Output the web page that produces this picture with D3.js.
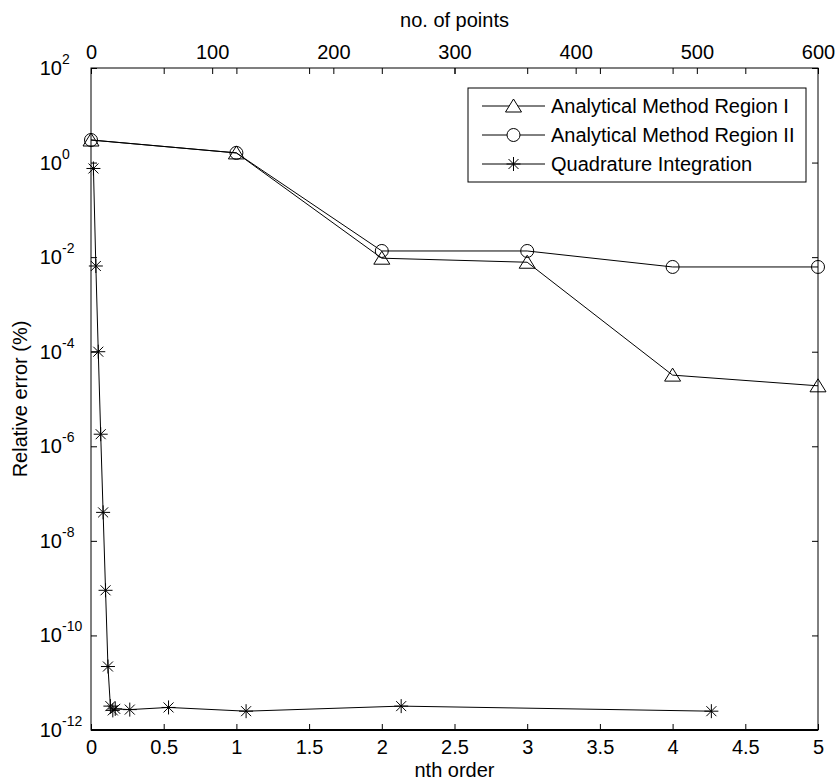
<!DOCTYPE html>
<html><head><meta charset="utf-8">
<script src="https://cdn.jsdelivr.net/npm/d3@7"></script>
<style>body{margin:0;background:#fff} text{font-family:"Liberation Sans",Arial,Helvetica,sans-serif;fill:#000}</style>
</head><body><svg id="c" width="837" height="780"></svg>
<script>
// ---- data ----
const orders = [0, 1, 2, 3, 4, 5];
const regionI = [3.0, 1.6, 0.0095, 0.0078, 3.2e-5, 1.9e-5];
const regionII = [3.0, 1.6, 0.0135, 0.0135, 0.0062, 0.0062];
const quadPoints = [2, 4, 6, 8, 10, 12, 14, 16, 18, 20, 32, 64, 128, 256, 512];
const quadError = [0.75, 6.5e-3, 1.0e-4, 1.8e-6, 4.0e-8, 9.0e-10, 2.2e-11, 3.2e-12, 2.6e-12, 2.8e-12, 2.7e-12, 3.0e-12, 2.5e-12, 3.2e-12, 2.5e-12];
const xTicksBottom = [0, 0.5, 1, 1.5, 2, 2.5, 3, 3.5, 4, 4.5, 5];
const xTicksTop = [0, 100, 200, 300, 400, 500, 600];
const yTickExps = [2, 0, -2, -4, -6, -8, -10, -12];
const seriesNames = ["Analytical Method Region I", "Analytical Method Region II", "Quadrature Integration"];

// ---- layout ----
const L = 91, R = 818, T = 68, B = 730;
const svg = d3.select("#c");
const x = d3.scaleLinear().domain([0, 5]).range([L, R]);
const xTop = d3.scaleLinear().domain([0, 600]).range([L, R]);
const y = d3.scaleLog().domain([1e-12, 1e2]).range([B, T]);
const FS = 20, TK = 6;

// frame
svg.append("rect").attr("x", L).attr("y", T).attr("width", R - L).attr("height", B - T)
  .attr("fill", "none").attr("stroke", "#000").attr("stroke-width", 1);
svg.append("line").attr("x1", L).attr("x2", R).attr("y1", B).attr("y2", B).attr("stroke", "#000").attr("stroke-width", 2);

function styleAxis(g) {
  g.select(".domain").remove();
  g.selectAll(".tick line").attr("stroke", "#000");
  g.selectAll("text").attr("font-size", FS).attr("font-family", '"Liberation Sans",Arial,sans-serif').attr("fill", "#000");
}
// bottom axis
svg.append("g").attr("transform", `translate(0,${B})`)
  .call(d3.axisBottom(x).tickValues(xTicksBottom).tickSizeInner(-TK).tickSizeOuter(0).tickPadding(10).tickFormat(d => String(d)))
  .call(styleAxis);
// mirrored bottom ticks on top edge
svg.append("g").attr("transform", `translate(0,${T})`)
  .call(d3.axisTop(x).tickValues(xTicksBottom).tickSizeInner(-TK).tickSizeOuter(0).tickFormat(""))
  .call(styleAxis);
// top axis (no. of points)
svg.append("g").attr("transform", `translate(0,${T})`)
  .call(d3.axisTop(xTop).tickValues(xTicksTop).tickSizeInner(-TK).tickSizeOuter(0).tickPadding(9).tickFormat(d => String(d)))
  .call(styleAxis);
// left axis ticks
const yVals = yTickExps.map(e => Math.pow(10, e));
svg.append("g").attr("transform", `translate(${L},0)`)
  .call(d3.axisLeft(y).tickValues(yVals).tickSizeInner(-TK).tickSizeOuter(0).tickFormat(""))
  .call(styleAxis);
// right mirrored ticks
svg.append("g").attr("transform", `translate(${R},0)`)
  .call(d3.axisRight(y).tickValues(yVals).tickSizeInner(-TK).tickSizeOuter(0).tickFormat(""))
  .call(styleAxis);
// left tick labels 10^e
const yl = svg.append("g");
yTickExps.forEach(e => {
  const yy = y(Math.pow(10, e));
  yl.append("text").attr("x", 62).attr("y", yy + 7).attr("text-anchor", "end").attr("font-size", FS).text("10");
  yl.append("text").attr("x", 62).attr("y", yy - 4).attr("text-anchor", "start").attr("font-size", 14).text(String(e));
});

// axis titles
svg.append("text").attr("x", (L + R) / 2).attr("y", 777).attr("text-anchor", "middle").attr("font-size", FS).text("nth order");
svg.append("text").attr("x", (L + R) / 2).attr("y", 27).attr("text-anchor", "middle").attr("font-size", FS).text("no. of points");
svg.append("text").attr("transform", `translate(27,${(T + B) / 2}) rotate(-90)`).attr("text-anchor", "middle").attr("font-size", FS).text("Relative error (%)");

// markers
const tri = "M0,-7L8,6L-8,6Z";
function star(s) {
  const r = 7, d = 5;
  s.append("path").attr("d", `M${-r},0H${r}M0,${-r}V${r}M${-d},${-d}L${d},${d}M${-d},${d}L${d},${-d}`)
    .attr("stroke", "#000").attr("stroke-width", 1).attr("fill", "none");
}
const line = d3.line();
const plot = svg.append("g");

const p1 = orders.map((o, i) => [x(o), y(regionI[i])]);
const p2 = orders.map((o, i) => [x(o), y(regionII[i])]);
const p3 = quadPoints.map((n, i) => [xTop(n), y(quadError[i])]);
[p1, p2, p3].forEach(p => plot.append("path").attr("d", line(p)).attr("fill", "none").attr("stroke", "#000").attr("stroke-width", 1));
plot.selectAll(".tri").data(p1).join("path").attr("transform", d => `translate(${d[0]},${d[1]})`).attr("d", tri)
  .attr("fill", "none").attr("stroke", "#000");
plot.selectAll(".circ").data(p2).join("circle").attr("cx", d => d[0]).attr("cy", d => d[1]).attr("r", 6.5)
  .attr("fill", "none").attr("stroke", "#000");
p3.forEach(d => star(plot.append("g").attr("transform", `translate(${d[0]},${d[1]})`)));

// legend
const lg = svg.append("g");
const LX = 468, LY = 88, LW = 338, LH = 94;
lg.append("rect").attr("x", LX).attr("y", LY).attr("width", LW).attr("height", LH).attr("fill", "#fff").attr("stroke", "#000");
const rows = [106, 135, 164];
seriesNames.forEach((nm, i) => {
  const yy = rows[i];
  lg.append("line").attr("x1", 482).attr("x2", 545).attr("y1", yy).attr("y2", yy).attr("stroke", "#000");
  const mg = lg.append("g").attr("transform", `translate(513.5,${yy})`);
  if (i === 0) mg.append("path").attr("d", tri).attr("fill", "#fff").attr("stroke", "#000");
  else if (i === 1) mg.append("circle").attr("r", 6.5).attr("fill", "#fff").attr("stroke", "#000");
  else star(mg);
  lg.append("text").attr("x", 551).attr("y", yy + 7).attr("font-size", FS).text(nm);
});
</script></body></html>
